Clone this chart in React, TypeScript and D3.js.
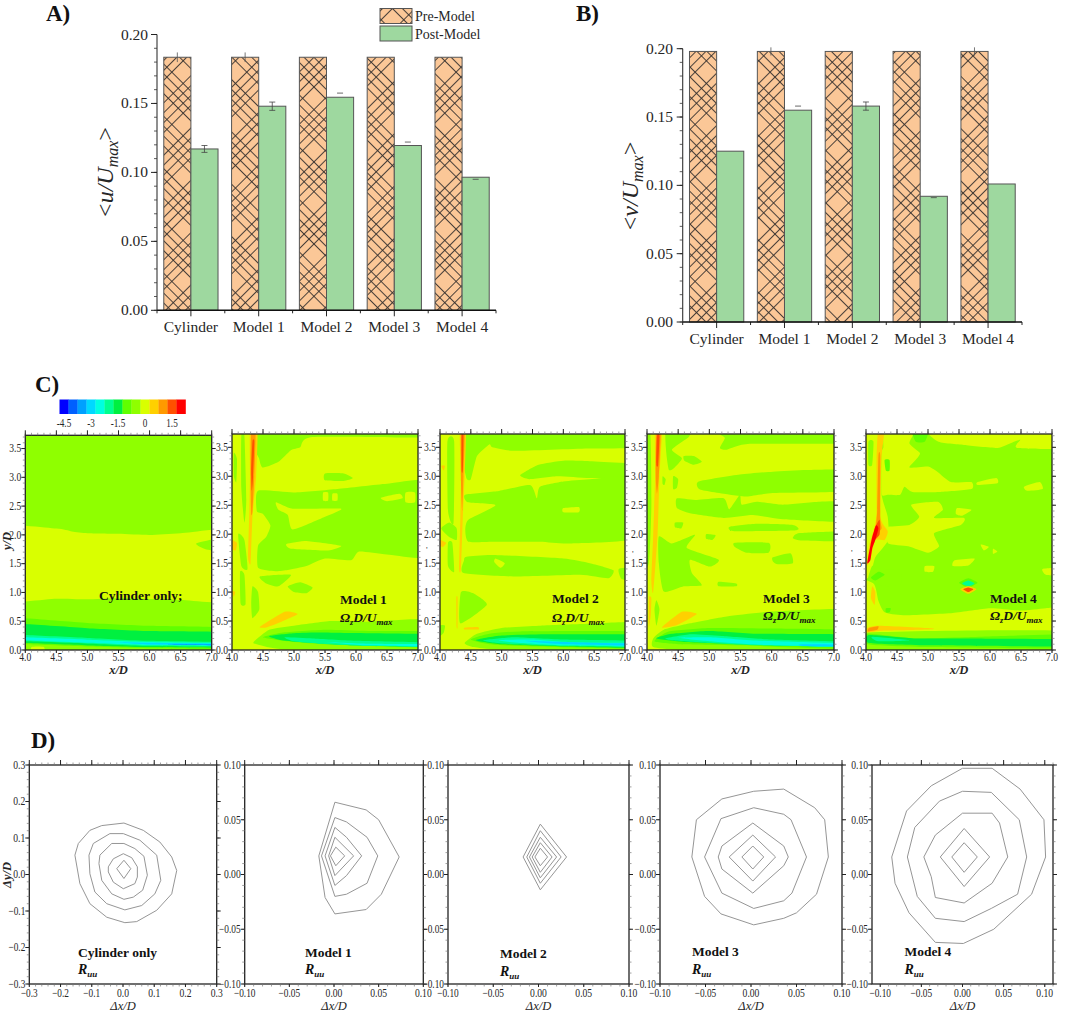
import React from "react";
import * as d3 from "d3";

const categories = ["Cylinder", "Model 1", "Model 2", "Model 3", "Model 4"];
const preU = [0.1835, 0.1835, 0.1835, 0.1835, 0.1835];
const postU = [0.117, 0.148, 0.1545, 0.1195, 0.0965];
const preUp = [0.0035, 0.0035, 0, 0, 0];
const postUHi = [0.0025, 0.003, 0.003, 0.0025, 0];
const postULo = [0.0025, 0.003, 0, 0, -0.0015];
const preV = [0.198, 0.198, 0.198, 0.198, 0.198];
const postV = [0.125, 0.155, 0.158, 0.092, 0.101];
const preVUp = [0, 0.003, 0, 0, 0.003];
const postVHi = [0, 0.003, 0.003, 0, 0];
const postVLo = [0, 0, 0.003, -0.001, 0];
const barTicks = [0, 0.05, 0.1, 0.15, 0.2];

const colourSteps = ["#0000ff", "#0060ff", "#00a0ff", "#00d8ff", "#00ffe0", "#00ff90", "#00f040", "#60ff00", "#8fff00", "#d9ff00", "#ffd000", "#ff9900", "#ff5000", "#ff0000"];
const colourTicks = [-4.5, -3, -1.5, 0, 1.5];
const colourTickText = ["-4.5", "-3", "-1.5", "0", "1.5"];

const R = 2, Q = 1.5, P = 1, O = 0.5, Y = 0, G = -0.5, H = -1, I = -1.5, J = -2, K = -2.5, L = -3, M = -3.5;
type Pt = [number, number];
type Layer = [number, Pt[]];

const fieldCyl: Layer[] = [
  [G, [[3.5, 4.2], [7.5, 4.2], [7.5, -0.5], [3.5, -0.5]]],
  [Y, [[3.5, 2.12], [4.5, 2.11], [4.75, 2.06], [5, 2.03], [5.5, 2.02], [6, 2.0], [6.5, 2.03], [7.5, 2.07], [7.5, 0.87], [6.5, 0.87], [5.5, 0.9], [5, 0.88], [4.5, 0.89], [3.5, 0.88]]],
  [G, [[6.75, 1.85], [7.2, 1.95], [7.2, 1.72], [6.9, 1.75]]],
  [H, [[3.5, 0.58], [4, 0.55], [5, 0.47], [6, 0.42], [7.5, 0.37], [7.5, 0.03], [6, 0.03], [5, 0.06], [4, 0.1], [3.5, 0.11]]],
  [I, [[3.5, 0.48], [4, 0.45], [5, 0.38], [6, 0.33], [7.5, 0.3], [7.5, 0.05], [6, 0.05], [5, 0.08], [4, 0.12], [3.5, 0.13]]],
  [J, [[3.5, 0.27], [4, 0.26], [5, 0.21], [6, 0.16], [7.5, 0.13], [7.5, 0.06], [6, 0.07], [5, 0.11], [4, 0.15], [3.5, 0.16]]],
  [K, [[3.5, 0.22], [4, 0.22], [5, 0.18], [6, 0.14], [7.5, 0.115], [7.5, 0.07], [6, 0.085], [5, 0.125], [4, 0.17], [3.5, 0.18]]],
  [L, [[5.5, 0.135], [6, 0.125], [7.5, 0.105], [7.5, 0.075], [6, 0.095]]],
  [M, [[6.3, 0.105], [7.5, 0.098], [7.5, 0.08], [6.4, 0.092]]],
  [Y, [[4.1, 0.05], [4.3, 0.05], [4.3, -0.1], [4.1, -0.1]]],
];

const fieldM1: Layer[] = [
  [Y, [[3.5, 4.2], [7.5, 4.2], [7.5, -0.5], [3.5, -0.5]]],
  [G, [[4.4, 3.8], [7.3, 3.8], [7.3, 3.67], [5.3, 3.68], [5.1, 3.5], [4.95, 3.45], [4.75, 3.25], [4.5, 3.15], [4.44, 3.3]]],
  [G, [[5.5, 3.05], [5.8, 3.05], [5.95, 2.97], [5.8, 2.92], [5.5, 2.93]]],
  [G, [[4.42, 2.75], [5, 2.72], [5.7, 2.78], [6.5, 2.87], [7.3, 2.9], [7.3, 1.63], [6.5, 1.65], [6.05, 1.7], [5.92, 1.55], [5.5, 1.58], [5.2, 1.45], [4.9, 1.38], [4.7, 1.36], [4.42, 1.42], [4.42, 1.8], [4.55, 1.95], [4.62, 2.15], [4.5, 2.35], [4.4, 2.4]]],
  [Y, [[4.71, 2.55], [4.98, 2.44], [5.76, 2.44], [5.5, 2.3], [4.98, 2.08], [4.9, 2.33], [4.75, 2.42]]],
  [Y, [[4.88, 1.83], [5.22, 1.88], [5.76, 1.8], [5.55, 1.72], [4.95, 1.75]]],
  [Y, [[5.47, 2.72], [5.55, 2.72], [5.55, 2.58], [5.47, 2.58]]],
  [Y, [[5.62, 2.7], [5.7, 2.7], [5.7, 2.58], [5.62, 2.58]]],
  [Y, [[6.4, 2.63], [6.7, 2.7], [6.75, 2.62], [6.5, 2.57]]],
  [Y, [[6.8, 2.72], [6.95, 2.72], [6.95, 2.55], [6.8, 2.55]]],
  [G, [[4.9, 1.1], [5.1, 1.17], [5.3, 1.08], [5.2, 0.98], [5, 1.0]]],
  [G, [[4.33, 1.1], [4.42, 1.0], [4.44, 0.7], [4.33, 0.55], [4.31, 0.8]]],
  [G, [[4.45, 1.27], [4.95, 1.3], [4.75, 1.1], [4.55, 1.15]]],
  [G, [[4.15, 3.7], [4.2, 3.7], [4.23, 2.6], [4.2, 2.2], [4.15, 2.8]]],
  [G, [[4.03, 3.4], [4.08, 3.3], [4.07, 2.9], [4.03, 3]]],
  [G, [[4.1, 2], [4.2, 1.9], [4.25, 1.4], [4.15, 1.45]]],
  [G, [[4.13, 1.35], [4.2, 1.3], [4.22, 0.8], [4.14, 0.8]]],
  [O, [[4.0, 1.9], [4.08, 1.85], [4.06, 1.72], [4.0, 1.75]]],
  [O, [[4.0, 1.02], [4.05, 1.0], [4.03, 0.92]]],
  [O, [[4.29, 3.78], [4.41, 3.78], [4.39, 3], [4.33, 2.3], [4.3, 1.5], [4.26, 1.6], [4.28, 2.4], [4.29, 3]]],
  [P, [[4.31, 3.78], [4.38, 3.78], [4.36, 3.0], [4.33, 2.4], [4.31, 2.35], [4.3, 3.0]]],
  [Q, [[4.33, 3.6], [4.36, 3.6], [4.34, 3.0], [4.32, 2.75], [4.31, 3.1]]],
  [O, [[4.45, 0.4], [4.85, 0.66], [5.06, 0.62], [4.8, 0.49], [4.55, 0.39]]],
  [G, [[4.35, 0.14], [4.6, 0.35], [5, 0.42], [5.6, 0.5], [6.2, 0.49], [7.5, 0.53], [7.5, 0.01], [4.9, 0.01], [4.4, 0.1]]],
  [H, [[4.5, 0.22], [4.8, 0.3], [5.5, 0.35], [6.2, 0.33], [7.5, 0.31], [7.5, 0.04], [5.5, 0.1], [4.9, 0.15]]],
  [I, [[4.6, 0.24], [5, 0.29], [5.6, 0.3], [7.5, 0.26], [7.5, 0.05], [6, 0.08], [5.2, 0.13], [4.8, 0.17]]],
  [J, [[4.85, 0.22], [5.3, 0.2], [6, 0.16], [7.5, 0.12], [7.5, 0.05], [6.2, 0.07], [5.4, 0.11], [5, 0.15]]],
  [K, [[5.5, 0.14], [6.2, 0.11], [7.5, 0.1], [7.5, 0.05], [6.2, 0.08]]],
];

const fieldM2: Layer[] = [
  [Y, [[3.5, 4.2], [7.5, 4.2], [7.5, -0.5], [3.5, -0.5]]],
  [G, [[4.45, 3.8], [7.3, 3.8], [7.3, 3.5], [6.4, 3.48], [5.2, 3.44], [4.85, 3.5], [4.8, 3.55], [4.6, 3.35], [4.5, 2.95], [4.42, 3.0]]],
  [G, [[5.3, 3.02], [5.6, 3.2], [6, 3.27], [6.43, 3.26], [7.3, 3.2], [7.3, 2.98], [6.43, 2.97], [5.9, 3.0], [5.45, 2.95]]],
  [G, [[4.41, 2.68], [4.92, 2.74], [5.46, 2.85], [5.57, 2.62], [5.62, 2.82], [6, 2.91], [6.43, 2.95], [7.3, 2.97], [7.3, 1.96], [6.11, 1.84], [5.62, 1.87], [4.86, 1.87], [4.46, 1.87], [4.41, 2.07], [4.46, 2.25], [4.9, 2.5], [4.45, 2.55]]],
  [Y, [[6, 2.45], [6.25, 2.47], [6.25, 2.38], [6, 2.38]]],
  [G, [[4.43, 1.61], [4.86, 1.64], [6, 1.58], [6.43, 1.5], [6.81, 1.38], [6.73, 1.24], [6.27, 1.3], [5.19, 1.27], [4.38, 1.33], [4.39, 1.55]]],
  [Y, [[4.9, 1.58], [5.05, 1.5], [4.98, 1.42], [4.88, 1.52]]],
  [G, [[6.9, 1.4], [7.2, 1.42], [7.2, 1.22], [6.95, 1.22]]],
  [G, [[4.34, 1.0], [4.54, 0.98], [4.76, 0.78], [4.33, 0.46]]],
  [G, [[4.12, 3.6], [4.23, 3.6], [4.22, 2.2], [4.13, 2.4]]],
  [G, [[4.02, 2.1], [4.15, 2.2], [4.27, 2.1], [4.27, 1.9], [4.15, 1.95]]],
  [G, [[4.13, 1.85], [4.2, 1.85], [4.23, 1.35], [4.13, 1.45]]],
  [G, [[4, 0.42], [4.08, 0.42], [4.06, 0.3], [4, 0.25]]],
  [O, [[4.0, 1.9], [4.1, 1.85], [4.05, 1.78], [4.0, 1.8]]],
  [O, [[4.02, 3.18], [4.08, 3.18], [4.06, 3.1]]],
  [O, [[4.32, 3.78], [4.42, 3.78], [4.4, 3], [4.37, 2.3], [4.34, 1.4], [4.31, 1.4], [4.33, 2.3], [4.34, 3]]],
  [P, [[4.34, 3.78], [4.4, 3.78], [4.38, 3.0], [4.36, 2.4], [4.34, 2.9]]],
  [Q, [[4.35, 3.7], [4.38, 3.7], [4.37, 3.1], [4.35, 3.1]]],
  [O, [[4.265, 0.9], [4.285, 0.9], [4.285, 0.4], [4.27, 0.4]]],
  [O, [[4.4, 0.385], [4.62, 0.395], [4.62, 0.355], [4.4, 0.355]]],
  [G, [[4.4, 0.12], [4.6, 0.28], [5, 0.38], [5.6, 0.42], [6.3, 0.45], [7.5, 0.48], [7.5, 0.01], [5, 0.01], [4.55, 0.05]]],
  [H, [[4.5, 0.18], [4.8, 0.28], [5.3, 0.32], [7.5, 0.31], [7.5, 0.03], [5.5, 0.06], [4.8, 0.1]]],
  [I, [[4.58, 0.17], [5, 0.25], [5.8, 0.27], [7.5, 0.26], [7.5, 0.04], [6, 0.06], [5, 0.1]]],
  [J, [[4.7, 0.17], [5.2, 0.22], [6, 0.18], [7.5, 0.15], [7.5, 0.05], [6, 0.07], [5.2, 0.1], [4.85, 0.13]]],
  [K, [[4.95, 0.17], [5.5, 0.18], [6.2, 0.13], [7.5, 0.12], [7.5, 0.06], [6, 0.08], [5.3, 0.12]]],
  [L, [[5.35, 0.16], [6, 0.14], [7.5, 0.1], [7.5, 0.07], [6, 0.1]]],
];

const fieldM3: Layer[] = [
  [Y, [[3.5, 4.2], [7.5, 4.2], [7.5, -0.5], [3.5, -0.5]]],
  [G, [[4.31, 3.8], [4.69, 3.8], [4.67, 3.68], [4.4, 3.46], [4.56, 3.31], [4.43, 3.14], [4.35, 3.11], [4.31, 3.4]]],
  [G, [[4.59, 3.35], [4.75, 3.35], [4.88, 3.25], [4.75, 3.2], [4.6, 3.27]]],
  [G, [[5.2, 3.8], [7.3, 3.8], [7.3, 3.57], [5.65, 3.56], [5.28, 3.46], [5.17, 3.49], [5.25, 3.66]]],
  [G, [[4.42, 3.0], [4.5, 2.95], [4.48, 2.8], [4.42, 2.78]]],
  [G, [[4.25, 3], [4.3, 2.95], [4.28, 2.85], [4.25, 2.87]]],
  [G, [[4.83, 2.91], [5.49, 3.03], [6.02, 3.08], [6.56, 3.11], [7.3, 3.1], [7.3, 2.75], [6.02, 2.71], [5.6, 2.65], [5.33, 2.68], [4.85, 2.77]]],
  [G, [[4.48, 2.62], [4.8, 2.59], [5.23, 2.62], [5.32, 2.43], [5.49, 2.68], [5.52, 2.51], [5.76, 2.56], [6.18, 2.51], [6.77, 2.56], [7.3, 2.55], [7.3, 2.22], [6.18, 2.26], [5.7, 2.33], [5.23, 2.28], [4.69, 2.36], [4.48, 2.45]]],
  [G, [[5.33, 2.13], [5.76, 2.18], [6.34, 2.16], [6.4, 2.07], [5.49, 2.05], [5.33, 2.07]]],
  [G, [[6.45, 2.02], [7.3, 2.05], [7.3, 1.88], [6.5, 1.89], [6.34, 1.93]]],
  [G, [[5.41, 1.85], [5.95, 1.85], [5.95, 1.68], [5.6, 1.68], [5.41, 1.78]]],
  [G, [[6.02, 1.6], [6.3, 1.67], [6.34, 1.5], [6.1, 1.48], [6.02, 1.53]]],
  [G, [[5.15, 1.18], [5.43, 1.15], [5.43, 1.1], [5.15, 1.1]]],
  [G, [[4.45, 2.2], [4.58, 2.2], [4.55, 2.1], [4.45, 2.12]]],
  [G, [[4.95, 2.0], [5.1, 1.98], [5.05, 1.9], [4.95, 1.92]]],
  [G, [[4.19, 1.96], [4.4, 1.84], [4.77, 1.99], [4.64, 1.76], [5.15, 1.56], [5.01, 1.44], [4.69, 1.56], [4.72, 1.33], [4.88, 1.12], [4.59, 1.1], [4.27, 1.01], [4.19, 1.5]]],
  [G, [[4.15, 0.86], [4.2, 0.7], [4.15, 0.42], [4.12, 0.7]]],
  [G, [[3.9, 3.8], [4.05, 3.8], [4.07, 2.5], [4.03, 1.5], [3.9, 1.5]]],
  [O, [[4.13, 3.8], [4.24, 3.8], [4.2, 3], [4.17, 2], [4.1, 1], [4.07, 1.2], [4.1, 2], [4.13, 3]]],
  [O, [[4.03, 0.9], [4.07, 0.9], [4.06, 0.6], [4.03, 0.4]]],
  [P, [[4.15, 3.78], [4.22, 3.78], [4.19, 3], [4.16, 2.7], [4.14, 3.0]]],
  [Q, [[4.16, 3.7], [4.2, 3.7], [4.18, 3.2], [4.15, 3.2]]],
  [O, [[4.24, 0.39], [4.56, 0.66], [4.8, 0.62], [4.48, 0.43]]],
  [G, [[4.1, 0.2], [4.27, 0.35], [4.69, 0.46], [5.28, 0.58], [5.97, 0.66], [7.5, 0.68], [7.5, -0.1], [4.6, 0.0], [4.1, 0.05]]],
  [H, [[4.12, 0.15], [4.35, 0.32], [5, 0.38], [6, 0.37], [7.5, 0.33], [7.5, 0.02], [5.5, 0.08], [4.5, 0.1]]],
  [I, [[4.15, 0.2], [4.4, 0.28], [5, 0.33], [5.8, 0.28], [7.5, 0.26], [7.5, 0.05], [5.5, 0.1], [4.6, 0.14]]],
  [J, [[4.3, 0.2], [4.7, 0.27], [5.2, 0.24], [6, 0.18], [7.5, 0.13], [7.5, 0.05], [5.8, 0.08], [4.9, 0.13], [4.4, 0.17]]],
  [K, [[4.5, 0.21], [5, 0.22], [5.8, 0.16], [7.5, 0.1], [7.5, 0.05], [5.8, 0.09], [5, 0.15]]],
  [L, [[6.5, 0.1], [7.5, 0.09], [7.5, 0.06], [6.5, 0.07]]],
];

const fieldM4: Layer[] = [
  [G, [[3.5, 4.2], [7.5, 4.2], [7.5, -0.5], [3.5, -0.5]]],
  [Y, [[5.05, 3.85], [7.4, 3.85], [7.4, 3.49], [6.44, 3.49], [6.49, 3.63], [6.33, 3.57], [6.12, 3.49], [5.58, 3.54], [5.16, 3.6]]],
  [Y, [[4.3, 3.85], [4.8, 3.85], [4.7, 3.57], [4.87, 3.4], [4.8, 3.28], [4.7, 3.15], [5, 3.17], [5.15, 3.08], [5.37, 2.9], [5.7, 2.9], [5.7, 2.78], [5.2, 2.73], [4.75, 2.73], [4.62, 2.82], [4.55, 2.68], [4.35, 2.68], [4.25, 2.7], [4.25, 3.4], [4.28, 3.5]]],
  [Y, [[4.73, 2.51], [5.16, 2.56], [5.24, 2.42], [5.1, 2.28], [5.58, 2.28], [5.53, 2.16], [5.1, 2.02], [5.18, 1.79], [5, 1.68], [4.68, 1.79], [4.36, 1.84], [4.33, 2.07], [4.36, 2.13], [4.7, 2.16], [4.86, 2.3]]],
  [Y, [[3.7, 3.9], [4.35, 3.9], [4.25, 3.5], [4.25, 2.7], [4.35, 2.3], [4.36, 1.9], [4.15, 1.6], [4.08, 1.3], [4.05, 1.25], [3.7, 1.25]]],
  [Y, [[5.47, 2.45], [5.7, 2.42], [5.55, 2.32], [5.45, 2.35]]],
  [Y, [[5.8, 2.9], [6.1, 2.97], [6.12, 2.88], [5.8, 2.85]]],
  [Y, [[6.55, 2.82], [6.8, 2.9], [6.85, 2.78], [6.6, 2.75]]],
  [Y, [[5.43, 1.55], [5.75, 1.58], [5.65, 1.46], [5.4, 1.45]]],
  [Y, [[5.85, 1.82], [5.98, 1.78], [5.9, 1.72]]],
  [Y, [[6.05, 1.75], [6.12, 1.7], [6.05, 1.66]]],
  [Y, [[4.95, 1.45], [5.1, 1.45], [5.08, 1.35], [4.95, 1.35]]],
  [Y, [[6.85, 1.4], [7.2, 1.42], [7.2, 1.28], [6.9, 1.3]]],
  [G, [[4.04, 3.6], [4.12, 3.6], [4.1, 3.2], [4.04, 3.2]]],
  [G, [[4.03, 1.22], [4.1, 1.45], [4.25, 1.4], [4.55, 1.38], [4.57, 1.15], [4.4, 1.1], [4.1, 1.15]]],
  [H, [[4.08, 1.25], [4.2, 1.35], [4.3, 1.3], [4.15, 1.2]]],
  [H, [[4.3, 3.28], [4.38, 3.28], [4.38, 3.1], [4.32, 3.1]]],
  [H, [[4.73, 3.85], [5.02, 3.85], [4.95, 3.6], [4.8, 3.6]]],
  [H, [[4.32, 0.72], [4.4, 0.72], [4.38, 0.65], [4.32, 0.65]]],
  [Y, [[3.7, 1.25], [4.12, 1.15], [4.2, 0.85], [4.3, 0.65], [4.6, 0.6], [5.4, 0.64], [6, 0.72], [6.5, 0.68], [6.9, 0.72], [7.4, 0.75], [7.4, 0.28], [3.7, 0.28]]],
  [O, [[4.1, 1.1], [4.15, 1.0], [4.14, 0.78], [4.08, 0.9]]],
  [O, [[4.02, 0.38], [4.2, 0.42], [5.0, 0.38], [5.08, 0.36], [4.5, 0.34], [4.2, 0.33], [4.02, 0.3]]],
  [P, [[4.03, 0.32], [4.05, 0.38], [4.2, 0.41], [4.18, 0.35]]],
  [G, [[3.7, 0.28], [7.5, 0.32], [7.5, -0.2], [3.7, -0.2]]],
  [H, [[4.03, 0.28], [4.8, 0.2], [5.6, 0.22], [7.5, 0.27], [7.5, 0.03], [5, 0.05], [4.03, 0.1]]],
  [I, [[4.05, 0.26], [4.8, 0.2], [5.5, 0.2], [7.5, 0.18], [7.5, 0.06], [5, 0.08], [4.05, 0.12]]],
  [J, [[4.1, 0.23], [4.7, 0.17], [4.2, 0.15]]],
  [O, [[4.2, 3.85], [4.3, 3.85], [4.25, 3.3], [4.23, 2.3], [4.35, 2.05], [4.3, 1.9], [4.15, 1.9], [4.08, 1.6], [4.02, 1.45], [4.05, 1.8], [4.13, 2.1], [4.17, 2.35], [4.17, 3.3]]],
  [P, [[4.2, 3.35], [4.23, 3.35], [4.23, 2.3], [4.25, 2.1], [4.15, 2], [4.18, 2.4]]],
  [Q, [[4.14, 2.1], [4.22, 2.25], [4.22, 2.0], [4.13, 1.9]]],
  [R, [[4.02, 1.5], [4.07, 1.8], [4.1, 1.95], [4.16, 2.15], [4.2, 2.1], [4.15, 1.9], [4.1, 1.75], [4.07, 1.55]]],
  [H, [[5.5, 1.16], [5.65, 1.24], [5.8, 1.16], [5.65, 1.08]]],
  [J, [[5.55, 1.15], [5.65, 1.2], [5.75, 1.15], [5.65, 1.1]]],
  [O, [[5.52, 1.05], [5.65, 1.1], [5.78, 1.05], [5.65, 0.97]]],
  [Q, [[5.57, 1.05], [5.65, 1.08], [5.73, 1.05], [5.65, 1.0]]],
];

const contoursCyl: Pt[][] = [
  [[-0.154, 0.053], [-0.143, 0.085], [-0.106, 0.121], [-0.068, 0.134], [0.003, 0.141], [0.065, 0.121], [0.118, 0.089], [0.156, 0.048], [0.172, 0.011], [0.156, -0.053], [0.108, -0.098], [0.044, -0.129], [0.006, -0.132], [-0.052, -0.117], [-0.106, -0.08], [-0.138, -0.025]],
  [[-0.109, 0.053], [-0.095, 0.085], [-0.042, 0.112], [0.001, 0.112], [0.054, 0.094], [0.108, 0.053], [0.121, -0.016], [0.102, -0.053], [0.06, -0.085], [0.006, -0.097], [-0.052, -0.08], [-0.09, -0.048], [-0.106, 0.002]],
  [[-0.077, 0.03], [-0.074, 0.053], [-0.036, 0.085], [0.003, 0.085], [0.038, 0.071], [0.067, 0.05], [0.078, -0.002], [0.063, -0.043], [0.033, -0.062], [0.003, -0.068], [-0.036, -0.053], [-0.068, -0.016]],
  [[-0.047, 0.021], [-0.031, 0.043], [0.001, 0.057], [0.028, 0.046], [0.046, 0.021], [0.046, -0.007], [0.038, -0.025], [0.001, -0.039], [-0.031, -0.021], [-0.047, 0.007]],
  [[-0.02, 0.016], [0.003, 0.039], [0.025, 0.016], [0.003, -0.011]],
];
const contoursM1: Pt[][] = [
  [[-0.017, 0.017], [0.001, 0.066], [0.036, 0.059], [0.05, 0.05], [0.073, 0.016], [0.053, -0.018], [0.036, -0.032], [0.001, -0.036], [-0.01, -0.021]],
  [[-0.014, 0.017], [0.001, 0.052], [0.014, 0.048], [0.037, 0.034], [0.049, 0.017], [0.037, -0.008], [0.014, -0.018], [0.001, -0.02]],
  [[-0.01, 0.017], [0.001, 0.043], [0.014, 0.034], [0.031, 0.017], [0.014, -0.001], [0.001, -0.01]],
  [[-0.006, 0.017], [0.001, 0.034], [0.022, 0.017], [0.001, -0.001]],
  [[-0.004, 0.017], [0.002, 0.025], [0.012, 0.017], [0.002, 0.008]],
];
const contoursM2: Pt[][] = [
  [[-0.017, 0.016], [0.002, 0.046], [0.031, 0.016], [0.002, -0.014]],
  [[-0.013, 0.016], [0.002, 0.04], [0.025, 0.016], [0.002, -0.008]],
  [[-0.01, 0.016], [0.002, 0.034], [0.02, 0.016], [0.002, -0.003]],
  [[-0.007, 0.016], [0.002, 0.029], [0.015, 0.016], [0.002, 0.002]],
  [[-0.004, 0.016], [0.002, 0.024], [0.01, 0.016], [0.002, 0.008]],
];
const contoursM3: Pt[][] = [
  [[-0.065, 0.016], [-0.06, 0.05], [-0.032, 0.069], [0.003, 0.076], [0.036, 0.078], [0.07, 0.061], [0.081, 0.05], [0.085, 0.016], [0.072, -0.018], [0.05, -0.035], [0.036, -0.04], [0.003, -0.046], [-0.033, -0.036], [-0.051, -0.02]],
  [[-0.051, 0.016], [-0.033, 0.051], [0.003, 0.061], [0.036, 0.055], [0.044, 0.05], [0.061, 0.016], [0.045, -0.017], [0.036, -0.024], [0.003, -0.031], [-0.032, -0.017]],
  [[-0.036, 0.016], [-0.032, 0.026], [0.002, 0.047], [0.036, 0.026], [0.041, 0.016], [0.036, 0.008], [0.002, -0.017], [-0.032, 0.005]],
  [[-0.024, 0.016], [0.002, 0.036], [0.027, 0.016], [0.002, -0.006]],
  [[-0.01, 0.016], [0.002, 0.026], [0.014, 0.016], [0.002, 0.005]],
];
const contoursM4: Pt[][] = [
  [[-0.086, 0.016], [-0.068, 0.058], [-0.038, 0.081], [0, 0.097], [0.036, 0.097], [0.07, 0.078], [0.099, 0.05], [0.101, 0.016], [0.084, -0.018], [0.038, -0.05], [0.001, -0.063], [-0.033, -0.062], [-0.065, -0.035], [-0.082, -0.008]],
  [[-0.067, 0.016], [-0.058, 0.043], [-0.028, 0.067], [0, 0.076], [0.035, 0.075], [0.069, 0.05], [0.078, 0.016], [0.067, -0.018], [0.035, -0.031], [0.002, -0.043], [-0.033, -0.04], [-0.055, -0.02]],
  [[-0.047, 0.016], [-0.033, 0.036], [0, 0.056], [0.036, 0.056], [0.045, 0.047], [0.055, 0.016], [0.036, -0.008], [0.002, -0.026], [-0.033, -0.021], [-0.038, -0.002]],
  [[-0.027, 0.016], [0.002, 0.042], [0.033, 0.016], [0.002, -0.011]],
  [[-0.013, 0.016], [0.002, 0.029], [0.018, 0.016], [0.002, 0.002]],
];

const SERIF = "'Liberation Serif', serif";
const INK = "#262626";

// horizontally condensed tick text: the reference's tick glyphs are narrow
function narrowLen(s: string, size: number) {
  let em = 0;
  for (const ch of s) em += ch === "." ? 0.25 : ch === "-" ? 0.33 : 0.5;
  return em * size * 0.8;
}

function Bars({ idp, x0, x1, yTop, yBottom, pre, post, preUpper, postHi, postLo, sym, titleX, titleY, tickEnd }: any) {
  const x = d3.scaleBand<string>().domain(categories).range([x0, x1]);
  const y = d3.scaleLinear().domain([0, 0.2]).range([yBottom, yTop]);
  const w = x.bandwidth() * 0.4;
  const minor = d3.range(0, 0.2001, 0.01);
  const cx = (c: string) => (x(c) as number) + x.bandwidth() / 2;
  return (
    <g fontFamily={SERIF}>
      {categories.map((c, i) => (
        <g key={c}>
          <rect x={cx(c) - w} y={y(pre[i])} width={w} height={y(0) - y(pre[i])} fill={`url(#${idp})`} stroke="#555" strokeWidth={1} />
          <rect x={cx(c)} y={y(post[i])} width={w} height={y(0) - y(post[i])} fill="#9ed89f" stroke="#555" strokeWidth={1} />
          {preUpper[i] > 0 && <line x1={cx(c) - w / 2} x2={cx(c) - w / 2} y1={y(pre[i] + preUpper[i])} y2={y(pre[i] - preUpper[i])} stroke="#555" strokeWidth={0.8} />}
          {postHi[i] > 0 && <line x1={cx(c) + w / 2 - 3} x2={cx(c) + w / 2 + 3} y1={y(post[i] + postHi[i])} y2={y(post[i] + postHi[i])} stroke="#444" strokeWidth={0.8} />}
          {postLo[i] !== 0 && <line x1={cx(c) + w / 2 - 3} x2={cx(c) + w / 2 + 3} y1={y(post[i] - Math.abs(postLo[i]))} y2={y(post[i] - Math.abs(postLo[i]))} stroke="#444" strokeWidth={0.8} />}
          {postLo[i] > 0 && <line x1={cx(c) + w / 2} x2={cx(c) + w / 2} y1={y(post[i] + postHi[i])} y2={y(post[i] - postLo[i])} stroke="#444" strokeWidth={0.8} />}
          <line x1={cx(c)} x2={cx(c)} y1={yBottom} y2={yBottom + 6} stroke={INK} />
          <line x1={x(c)} x2={x(c)} y1={yBottom} y2={yBottom + 3} stroke={INK} />
          <text x={cx(c)} y={yBottom + 22} textAnchor="middle" fontSize={15.5} fill={INK}>{c}</text>
        </g>
      ))}
      <line x1={x1} x2={x1} y1={yBottom} y2={yBottom + 3} stroke={INK} />
      <line x1={x0} x2={x1} y1={yBottom} y2={yBottom} stroke="#111" strokeWidth={1.4} />
      <line x1={x0} x2={x0} y1={yTop} y2={yBottom} stroke="#333" strokeWidth={1.1} />
      {minor.map((t) => <line key={t} x1={x0 - 3} x2={x0} y1={y(t)} y2={y(t)} stroke="#333" strokeWidth={0.8} />)}
      {barTicks.map((t) => (
        <g key={t}>
          <line x1={x0 - 6} x2={x0} y1={y(t)} y2={y(t)} stroke="#222" />
          <text x={tickEnd} y={y(t) + 5} textAnchor="end" fontSize={15.5} fill={INK}>{d3.format(".2f")(t)}</text>
        </g>
      ))}
      <text transform={`translate(${titleX},${titleY}) rotate(-90)`} textAnchor="middle" fontSize={24} fill={INK}>
        {"<"}<tspan fontStyle="italic">{sym}/U</tspan><tspan fontStyle="italic" fontSize={16} dy={5}>max</tspan><tspan dy={-5}>{">"}</tspan>
      </text>
    </g>
  );
}

function Frame({ id, left, right, top, bottom, xDomain, yDomain, xMajor, xMinor, yMajor, yMinor, fmt, yTitle, xTitle, xTitleY, tickY, children }: any) {
  const x = d3.scaleLinear().domain(xDomain).range([left, right]);
  const y = d3.scaleLinear().domain(yDomain).range([bottom, top]);
  const size = 12;
  return (
    <g fontFamily={SERIF}>
      <clipPath id={id}><rect x={left} y={top} width={right - left} height={bottom - top} /></clipPath>
      <g clipPath={`url(#${id})`}>{children(x, y)}</g>
      <rect x={left} y={top} width={right - left} height={bottom - top} fill="none" stroke="#222" strokeWidth={1.3} />
      {xMinor.map((t: number) => (
        <g key={"xm" + t} stroke="#777" strokeWidth={0.7}>
          <line x1={x(t)} x2={x(t)} y1={top} y2={top - 2.5} />
          <line x1={x(t)} x2={x(t)} y1={bottom} y2={bottom + 2.5} />
        </g>
      ))}
      {yMinor.map((t: number) => (
        <g key={"ym" + t} stroke="#777" strokeWidth={0.7}>
          <line y1={y(t)} y2={y(t)} x1={left} x2={left - 2.5} />
          <line y1={y(t)} y2={y(t)} x1={right} x2={right + 2.5} />
        </g>
      ))}
      {xMajor.map((t: number) => (
        <g key={"x" + t}>
          <line x1={x(t)} x2={x(t)} y1={top} y2={top - 5} stroke="#222" strokeWidth={1} />
          <line x1={x(t)} x2={x(t)} y1={bottom} y2={bottom + 3} stroke="#222" strokeWidth={1} />
          <text x={x(t)} y={tickY} textAnchor="middle" fontSize={size} textLength={narrowLen(fmt(t), size)} lengthAdjust="spacingAndGlyphs" fill={INK}>{fmt(t)}</text>
        </g>
      ))}
      {yMajor.map((t: number) => (
        <g key={"y" + t}>
          <line y1={y(t)} y2={y(t)} x1={left} x2={left - 4} stroke="#222" strokeWidth={1} />
          <line y1={y(t)} y2={y(t)} x1={right} x2={right + 4} stroke="#222" strokeWidth={1} />
          <text x={left - 4} y={y(t) + 3.8} textAnchor="end" fontSize={size} textLength={narrowLen(fmt(t), size)} lengthAdjust="spacingAndGlyphs" fill={INK}>{fmt(t)}</text>
        </g>
      ))}
      <text x={(left + right) / 2} y={xTitleY} textAnchor="middle" fontSize={12.5} fontWeight={xTitle[0] === "x" ? "bold" : "normal"} fontStyle="italic" fill={INK}>{xTitle}</text>
      {yTitle && <text transform={`translate(${yTitle.x},${yTitle.y}) rotate(-90)`} textAnchor="middle" fontSize={12.5} fontWeight="bold" fontStyle="italic" fill={INK}>{yTitle.text}</text>}
    </g>
  );
}

const colourScale = d3.scaleQuantize<string>().domain([-4.75, 2.25]).range(colourSteps);
const fieldX = [4, 4.5, 5, 5.5, 6, 6.5, 7];
const fieldY = [0, 0.5, 1, 1.5, 2, 2.5, 3, 3.5];

function Field({ id, left, right, top, layers, yTitle }: any) {
  const area = (x: any, y: any) => d3.line<Pt>().x((p) => x(p[0])).y((p) => y(p[1])).curve(d3.curveCardinalClosed.tension(0.45));
  return (
    <Frame id={id} left={left} right={right} top={top} bottom={650} xDomain={[4, 7]} yDomain={[0, 3.73]}
      xMajor={fieldX} xMinor={d3.range(4, 7.001, 0.1)} yMajor={fieldY} yMinor={d3.range(0, 3.71, 0.1)}
      fmt={d3.format(".1f")} xTitle="x/D" xTitleY={674} tickY={660.5} yTitle={yTitle}>
      {(x: any, y: any) => layers.map(([lv, pts]: Layer, i: number) => <path key={i} d={area(x, y)(pts) as string} fill={colourScale(lv)} />)}
    </Frame>
  );
}

function VortLabel({ x, y }: { x: number; y: number }) {
  return (
    <text x={x} y={y} fontFamily={SERIF} fontSize={13.5} fontWeight="bold" fontStyle="italic" fill="#111">
      Ω<tspan fontSize={8} dy={3}>z</tspan><tspan dy={-3}>D/U</tspan><tspan fontSize={9} dy={3}>max</tspan>
    </text>
  );
}
function CorrLabel({ x, y }: { x: number; y: number }) {
  return (
    <text x={x} y={y} fontFamily={SERIF} fontSize={14} fontWeight="bold" fontStyle="italic" fill="#111">
      R<tspan fontSize={9} dy={3}>uu</tspan>
    </text>
  );
}

function Corr({ id, left, right, xDomain, yDomain, xTicks, yTicks, minorStep, contours, yTitle, fmt }: any) {
  const path = (x: any, y: any) => d3.line<Pt>().x((p) => x(p[0])).y((p) => y(p[1])).curve(d3.curveLinearClosed);
  return (
    <Frame id={id} left={left} right={right} top={765} bottom={984} xDomain={xDomain} yDomain={yDomain}
      xMajor={xTicks} xMinor={d3.range(yDomain[0], xDomain[1] + 1e-6, minorStep).filter((v: number) => v >= xDomain[0])}
      yMajor={yTicks} yMinor={d3.range(yDomain[0], yDomain[1] + 1e-6, minorStep)}
      fmt={fmt} xTitle="Δx/D" xTitleY={1010} tickY={997} yTitle={yTitle}>
      {(x: any, y: any) => contours.map((c: Pt[], i: number) => <path key={i} d={path(x, y)(c) as string} fill="none" stroke="#969696" strokeWidth={1} />)}
    </Frame>
  );
}

const corrTicksWide = [-0.3, -0.2, -0.1, 0, 0.1, 0.2, 0.3];
const corrTicksNarrow = [-0.1, -0.05, 0, 0.05, 0.1];
const fmt1 = d3.format(".1f");
const fmt2 = d3.format(".2f");

const hatchOffsets = [0, 7, 14, 21];
const strayMarks: Pt[] = [[426, 553], [632, 557], [851, 556], [226, 883], [640, 882], [853, 884]];

export default function App() {
  const cx = d3.scaleLinear().domain([-4.75, 2.25]).range([59.5, 185.5]);
  const steps = d3.range(-4.5, 2.01, 0.5);
  return (
    <svg width={1065} height={1013} viewBox="0 0 1065 1013" style={{ position: "absolute", left: 0, top: 0, background: "#fff" }}>
      <defs>
        {["hatchA", "hatchB"].map((id) => (
          <pattern key={id} id={id} patternUnits="userSpaceOnUse" width={37} height={37} patternTransform="rotate(45) translate(3,3)">
            <rect width={37} height={37} fill="#fbc797" />
            {hatchOffsets.map((o) => <line key={"v" + o} x1={o + 0.5} x2={o + 0.5} y1={0} y2={37} stroke="#36312f" strokeWidth={0.9} />)}
            {hatchOffsets.map((o) => <line key={"h" + o} y1={o + 0.5} y2={o + 0.5} x1={0} x2={37} stroke="#36312f" strokeWidth={0.9} />)}
          </pattern>
        ))}
      </defs>

      <g fontFamily={SERIF} fontWeight="bold" fontSize={23} fill="#111">
        <text x={46} y={21}>A)</text>
        <text x={576} y={21}>B)</text>
        <text x={35} y={392}>C)</text>
        <text x={31} y={748}>D)</text>
      </g>

      <Bars idp="hatchA" x0={157} x1={496} yTop={34.5} yBottom={310.3} pre={preU} post={postU} preUpper={preUp} postHi={postUHi} postLo={postULo} sym="u" titleX={113} titleY={172} tickEnd={148} />
      <Bars idp="hatchB" x0={682.7} x1={1022} yTop={48.7} yBottom={322} pre={preV} post={postV} preUpper={preVUp} postHi={postVHi} postLo={postVLo} sym="v" titleX={638} titleY={186} tickEnd={673} />

      <g fontFamily={SERIF} fontSize={14} fill={INK}>
        <rect x={380} y={8.5} width={32} height={15} fill="url(#hatchA)" stroke="#555" />
        <rect x={380} y={26} width={32} height={15} fill="#9ed89f" stroke="#555" />
        <text x={415} y={20.5}>Pre-Model</text>
        <text x={415} y={38.5}>Post-Model</text>
      </g>

      <g fontFamily={SERIF}>
        {steps.map((s) => <rect key={s} x={cx(s - 0.25)} y={399.5} width={cx(s + 0.25) - cx(s - 0.25) + 0.3} height={14.5} fill={colourScale(s)} />)}
        {colourTicks.map((t, i) => <text key={t} x={cx(t)} y={427} textAnchor="middle" fontSize={11.5} textLength={narrowLen(colourTickText[i], 11.5)} lengthAdjust="spacingAndGlyphs" fill={INK}>{colourTickText[i]}</text>)}
      </g>

      <Field id="c1" left={25.3} right={211.7} top={435.3} layers={fieldCyl} yTitle={{ x: 11, y: 541, text: "y/D" }} />
      <Field id="c2" left={232} right={418} top={434} layers={fieldM1} />
      <Field id="c3" left={440} right={625} top={434} layers={fieldM2} />
      <Field id="c4" left={647} right={834} top={434} layers={fieldM3} />
      <Field id="c5" left={866} right={1052} top={434} layers={fieldM4} />

      <g fontFamily={SERIF} fontSize={13.5} fontWeight="bold" fill="#111">
        <text x={99} y={600}>Cylinder only;</text>
        <text x={340} y={604}>Model 1</text>
        <text x={552} y={603}>Model 2</text>
        <text x={763} y={603}>Model 3</text>
        <text x={990} y={603}>Model 4</text>
      </g>
      <VortLabel x={340} y={622} />
      <VortLabel x={552} y={622} />
      <VortLabel x={763} y={620} />
      <VortLabel x={990} y={620} />

      <Corr id="d1" left={29.3} right={216.7} xDomain={[-0.3, 0.3]} yDomain={[-0.3, 0.3]} xTicks={corrTicksWide} yTicks={corrTicksWide} minorStep={0.02} contours={contoursCyl} fmt={fmt1} yTitle={{ x: 11, y: 875, text: "Δy/D" }} />
      <Corr id="d2" left={244.7} right={423.3} xDomain={[-0.1, 0.1]} yDomain={[-0.1, 0.1]} xTicks={corrTicksNarrow} yTicks={corrTicksNarrow} minorStep={0.01} contours={contoursM1} fmt={fmt2} />
      <Corr id="d3" left={448} right={629} xDomain={[-0.1, 0.1]} yDomain={[-0.1, 0.1]} xTicks={corrTicksNarrow} yTicks={corrTicksNarrow} minorStep={0.01} contours={contoursM2} fmt={fmt2} />
      <Corr id="d4" left={660} right={842} xDomain={[-0.1, 0.1]} yDomain={[-0.1, 0.1]} xTicks={corrTicksNarrow} yTicks={corrTicksNarrow} minorStep={0.01} contours={contoursM3} fmt={fmt2} />
      <Corr id="d5" left={872} right={1053} xDomain={[-0.11, 0.11]} yDomain={[-0.1, 0.1]} xTicks={corrTicksNarrow} yTicks={corrTicksNarrow} minorStep={0.01} contours={contoursM4} fmt={fmt2} />

      <g fontFamily={SERIF} fontSize={13.5} fontWeight="bold" fill="#111">
        <text x={78} y={957}>Cylinder only</text>
        <text x={305} y={957}>Model 1</text>
        <text x={500} y={958}>Model 2</text>
        <text x={692} y={956}>Model 3</text>
        <text x={904.5} y={956}>Model 4</text>
      </g>
      <CorrLabel x={78} y={974} />
      <CorrLabel x={305} y={974} />
      <CorrLabel x={500} y={976} />
      <CorrLabel x={692} y={974} />
      <CorrLabel x={904.5} y={974} />
      {strayMarks.map((p, i) => <text key={i} x={p[0]} y={p[1]} fontFamily={SERIF} fontSize={9} fill="#444">'</text>)}
    </svg>
  );
}
